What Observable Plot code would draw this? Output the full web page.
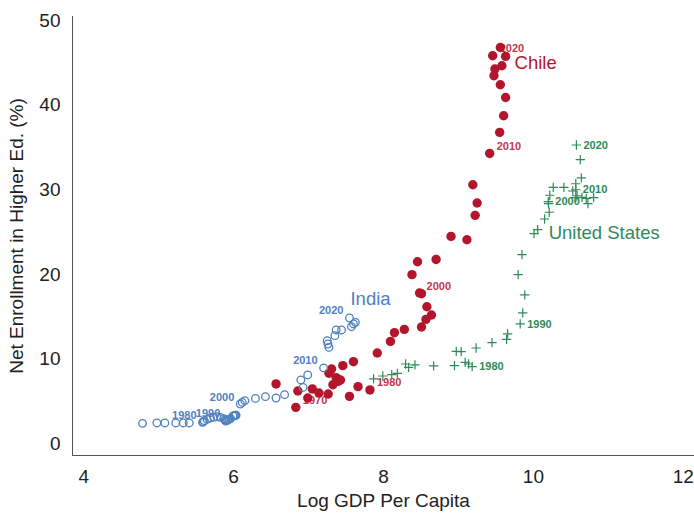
<!DOCTYPE html>
<html><head><meta charset="utf-8">
<script src="https://cdn.jsdelivr.net/npm/d3@7"></script>
<script src="https://cdn.jsdelivr.net/npm/@observablehq/plot@0.6"></script>
<style>body{margin:0;background:#fff;}</style>
</head><body><div id="chart"></div>
<script>
// ---- data ----
const indiaYear = [1974,1975,1976,1977,1978,1979,1980,1981,1982,1983,1984,1985,1986,1987,1988,1989,1990,1991,1992,1993,1994,1995,1996,1997,1998,1999,2000,2001,2002,2003,2004,2005,2006,2007,2008,2009,2010,2011,2012,2013,2014,2015,2016,2017,2018,2019,2020];
const indiaGdp = [4.785,4.976,5.082,5.228,5.328,5.408,5.585,5.596,5.609,5.646,5.691,5.735,5.779,5.824,5.868,5.887,5.903,5.894,5.921,5.938,5.960,5.991,6.007,6.020,6.026,6.033,6.089,6.115,6.150,6.291,6.424,6.566,6.680,6.927,6.897,6.989,7.201,7.272,7.258,7.249,7.351,7.368,7.440,7.572,7.599,7.625,7.546];
const indiaEnr = [2.40,2.45,2.45,2.45,2.45,2.45,2.52,2.60,2.72,2.87,3.04,3.11,3.19,3.11,2.96,2.84,2.72,2.66,2.78,2.87,2.96,3.27,3.31,3.31,3.35,3.37,4.69,4.88,5.08,5.35,5.56,5.40,5.79,6.65,7.53,8.12,8.95,11.38,11.78,12.17,12.77,13.44,13.44,13.83,14.15,14.34,14.86];

const chileYear = [1969,1970,1971,1972,1973,1974,1975,1976,1977,1978,1979,1980,1981,1982,1983,1984,1985,1986,1987,1989,1991,1993,1995,1996,1997,1998,1999,2000,2001,2002,2003,2004,2005,2006,2007,2008,2010,2011,2012,2013,2014,2015,2016,2017,2020,2021,2022];
const chileGdp = [6.566,6.830,6.857,7.050,7.307,7.457,7.272,7.368,7.426,7.599,7.660,7.819,7.546,7.262,6.989,7.139,7.325,7.395,7.917,8.093,8.146,8.278,8.507,8.566,8.640,8.579,8.507,8.481,8.380,8.454,8.702,8.901,9.113,9.223,9.249,9.192,9.417,9.550,9.603,9.629,9.559,9.474,9.487,9.580,9.457,9.629,9.559];
const chileEnr = [7.06,4.29,6.23,6.47,8.83,9.22,8.33,7.80,7.53,9.69,6.74,6.35,5.59,5.87,5.40,5.99,6.97,7.36,10.72,12.09,13.12,13.51,13.79,14.69,15.21,16.19,17.73,17.81,19.98,21.51,21.78,24.50,24.11,26.99,28.45,30.61,34.31,36.80,38.77,40.93,42.43,43.50,44.29,44.68,45.86,45.78,46.84];

const usYear = [1967,1968,1969,1970,1971,1972,1973,1974,1975,1976,1977,1978,1979,1980,1982,1984,1986,1988,1990,1991,1992,1993,1994,1995,1996,1997,1998,1999,2000,2001,2002,2003,2004,2006,2007,2008,2009,2010,2012,2014,2016,2018,2019,2020];
const usGdp = [7.868,7.991,8.110,8.185,8.295,8.335,8.420,8.669,8.947,8.971,9.037,9.090,9.135,9.183,9.236,9.448,9.642,9.656,9.824,9.858,9.885,9.797,9.848,10.009,10.057,10.150,10.212,10.203,10.199,10.219,10.265,10.407,10.566,10.583,10.649,10.706,10.526,10.566,10.566,10.728,10.804,10.640,10.626,10.574];
const usEnr = [7.65,8.00,8.16,8.31,9.42,9.02,9.31,9.20,9.22,10.91,10.87,9.61,9.42,9.10,11.31,11.94,12.33,12.97,14.15,15.45,17.58,19.98,22.34,24.82,25.30,26.56,27.36,28.37,28.61,29.37,30.30,30.30,30.73,29.31,29.11,29.00,29.87,30.02,29.08,28.37,29.08,31.41,33.57,35.31];

const indiaLabelYears = [1980, 1990, 2000, 2010, 2020];
const chileLabelYears = [1970, 1980, 2000, 2010, 2020];
const usLabelYears = [1980, 1990, 2000, 2010, 2020];
const xTicks = [4, 6, 8, 10, 12];
const yTicks = [0, 10, 20, 30, 40, 50];
const xDomain = [3.85, 12.15];
const yDomain = [-1.4, 50.5];

// ---- build ----
const rows = (years, xs, ys) => years.map((year, i) => ({year, x: xs[i], y: ys[i]}));
const india = rows(indiaYear, indiaGdp, indiaEnr);
const chile = rows(chileYear, chileGdp, chileEnr);
const us = rows(usYear, usGdp, usEnr);
const pick = list => d => list.includes(d.year);

const indiaColor = "#4f80bf";
const chileColor = "#b3162c";
const usColor = "#2e8b57";
const font = "'Liberation Sans', Arial, Helvetica, sans-serif";

const chart = Plot.plot({
  width: 694, height: 513,
  marginLeft: 72, marginRight: 0, marginTop: 16, marginBottom: 58,
  style: {fontFamily: font, fontSize: "19px", color: "#222", background: "#fff", overflow: "visible"},
  x: {domain: xDomain},
  y: {domain: yDomain},
  marks: [
    Plot.axisX({ticks: xTicks, tickSize: 0, tickPadding: 14, fontSize: 19, label: "Log GDP Per Capita", labelAnchor: "center", labelArrow: "none", labelOffset: 51}),
    Plot.axisY({ticks: yTicks, tickSize: 0, tickPadding: 12, fontSize: 19, label: "Net Enrollment in Higher Ed. (%)", labelAnchor: "center", labelArrow: "none", labelOffset: 63}),
    Plot.ruleX([xDomain[0]], {stroke: "#555", strokeWidth: 1}),
    Plot.ruleY([yDomain[0]], {stroke: "#555", strokeWidth: 1}),
    // year labels (drawn beneath the markers)
    Plot.text(india.filter(pick(indiaLabelYears)), {x: "x", y: "y", text: d => String(d.year), textAnchor: "end", dx: -6, dy: -7, fill: indiaColor, fontWeight: "bold", fontSize: 11}),
    Plot.text(chile.filter(pick(chileLabelYears)), {x: "x", y: "y", text: d => String(d.year), textAnchor: "start", dx: 7, dy: -7, fill: "#c0394d", fontWeight: "bold", fontSize: 11}),
    Plot.text(us.filter(pick(usLabelYears)), {x: "x", y: "y", text: d => String(d.year), textAnchor: "start", dx: 7, dy: 0, fill: usColor, fontWeight: "bold", fontSize: 11}),
    // markers
    Plot.dot(chile, {x: "x", y: "y", r: 4.7, fill: chileColor, stroke: "none"}),
    Plot.dot(india, {x: "x", y: "y", r: 3.8, fill: "none", stroke: indiaColor, strokeWidth: 1.3}),
    Plot.dot(us, {x: "x", y: "y", symbol: "plus", r: 3.1, stroke: usColor, strokeWidth: 1.2}),
    // country names
    Plot.text(chile.filter(d => d.year === 2021), {x: "x", y: "y", text: () => "Chile", textAnchor: "start", dx: 9, dy: 7, fill: chileColor, fontSize: 18.5}),
    Plot.text(india.filter(d => d.year === 2020), {x: "x", y: "y", text: () => "India", textAnchor: "start", dx: 1, dy: -19, fill: indiaColor, fontSize: 18.5}),
    Plot.text(us.filter(d => d.year === 1996), {x: "x", y: "y", text: () => "United States", textAnchor: "start", dx: 11, dy: 3, fill: usColor, fontSize: 18.5})
  ]
});
document.getElementById("chart").append(chart);
</script>
</body></html>
